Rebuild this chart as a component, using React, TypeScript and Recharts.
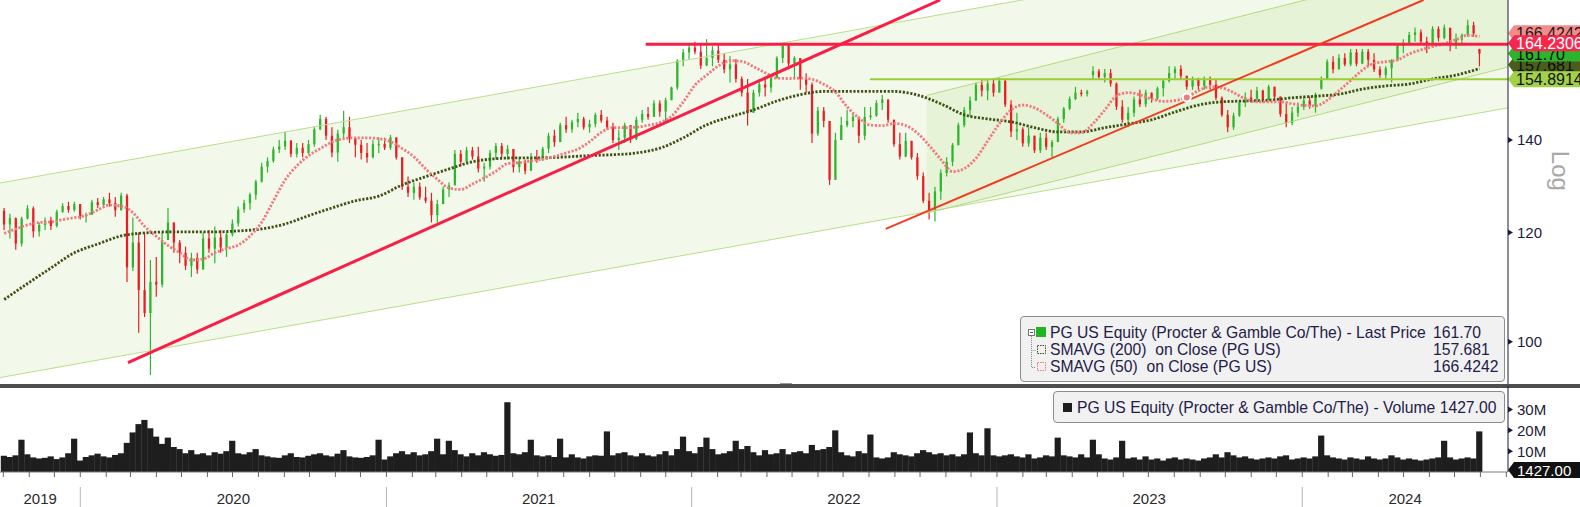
import React from "react";
import { ComposedChart, Bar, Line, Area, XAxis, YAxis, ReferenceLine } from "recharts";

const FONT = '"Liberation Sans", Arial, sans-serif';
const DAY = 86400000;
const utc = (s: string) => Date.parse(s + "T00:00:00Z");

// visible time window and weekly bar calendar (bar sits on the Wednesday of its week)
const X_START = "2019-09-27";
const X_END = "2024-09-03";
const FIRST_BAR = "2019-10-02";

// PG US weekly candles
const OPEN = [
  124.4, 121.6, 122.9, 117.8, 122.8, 124.9, 120.2, 121.5, 122.4, 121.3,
  124.2, 125.4, 124.6, 125.8, 123.3, 123.6, 126.2, 125.6, 126.8, 126.0,
  124.5, 127.6, 113.2, 118.0, 109.0, 104.9, 110.5, 110.0, 118.5, 122.0,
  118.0, 116.0, 113.5, 115.0, 112.8, 118.8, 116.8, 119.0, 117.0, 119.6,
  121.8, 124.7, 126.0, 127.8, 130.6, 133.9, 135.2, 137.8, 138.5, 139.8,
  136.8, 138.2, 137.0, 139.0, 142.5, 145.0, 141.0, 137.1, 141.5, 143.0,
  140.5, 138.9, 137.0, 136.0, 139.0, 139.1, 138.2, 140.6, 136.0, 129.5,
  128.2, 129.5, 127.2, 126.5, 123.5, 125.8, 128.9, 129.8, 136.8, 135.0,
  137.6, 136.2, 133.5, 133.9, 137.0, 138.6, 136.8, 137.9, 133.8, 135.1,
  133.0, 135.9, 135.5, 138.0, 141.0, 139.5, 143.5, 142.5, 144.2, 145.0,
  143.0, 143.8, 146.0, 144.6, 143.0, 140.0, 140.5, 143.5, 140.2, 144.8,
  146.2, 145.5, 148.8, 146.8, 149.6, 152.8, 159.8, 162.0, 163.3, 162.2,
  158.5, 160.5, 162.5, 160.0, 157.5, 158.8, 155.0, 151.5, 146.5, 151.5,
  153.6, 152.8, 155.2, 160.5, 163.8, 159.0, 160.5, 155.0, 153.5, 141.5,
  147.0, 144.5, 131.0, 140.0, 143.5, 144.5, 145.5, 141.0, 145.5, 145.8,
  148.9, 149.8, 144.8, 139.0, 136.2, 139.8, 136.0, 131.8, 126.5, 124.5,
  128.5, 132.5, 135.0, 138.8, 143.5, 147.2, 149.5, 153.5, 152.0, 153.8,
  151.5, 154.5, 148.5, 142.0, 142.5, 139.2, 141.0, 137.6, 140.5, 138.4,
  139.5, 145.0, 147.5, 149.9, 151.5, 151.2, 156.0, 157.0, 155.5, 156.5,
  153.8, 148.0, 144.8, 146.5, 149.8, 148.6, 151.5, 150.0, 152.6, 154.5,
  156.5, 157.6, 155.8, 153.0, 154.8, 153.2, 155.0, 153.5, 150.2, 146.0,
  143.0, 145.8, 149.0, 150.3, 150.0, 152.0, 149.8, 153.0, 150.5, 146.2,
  144.0, 146.5, 148.0, 149.5, 148.2, 152.5, 155.0, 159.5, 157.5, 160.5,
  158.8, 162.0, 159.0, 162.2, 160.0, 157.5, 156.0, 157.8, 159.8, 163.8,
  164.6, 166.8, 167.5, 165.0, 164.5, 168.5, 166.0, 168.8, 164.5, 165.5,
  166.8, 169.5, 162.9,
];
const HIGH = [
  125.0, 123.8, 123.0, 123.2, 125.6, 125.3, 122.0, 123.0, 123.2, 124.6,
  126.0, 126.3, 126.3, 125.8, 124.0, 126.7, 127.1, 127.3, 128.2, 127.3,
  128.2, 128.0, 123.0, 120.0, 120.0, 114.6, 115.2, 120.0, 125.0, 122.0,
  118.5, 117.2, 116.0, 116.0, 120.0, 120.5, 121.2, 120.5, 120.0, 122.6,
  125.3, 126.7, 128.2, 131.0, 134.8, 136.0, 138.4, 140.0, 141.9, 140.0,
  139.3, 139.3, 140.0, 143.0, 146.0, 145.5, 143.0, 142.4, 147.0, 145.5,
  140.7, 140.0, 139.3, 140.0, 140.7, 140.5, 141.2, 140.6, 136.0, 131.7,
  130.4, 130.4, 129.5, 128.2, 126.7, 129.5, 130.4, 137.7, 137.7, 138.4,
  138.4, 138.4, 134.8, 137.7, 139.3, 139.3, 138.8, 137.9, 136.0, 135.5,
  137.0, 137.7, 138.4, 141.7, 142.4, 144.1, 145.5, 144.8, 146.5, 145.5,
  144.8, 146.5, 147.2, 145.5, 144.1, 142.4, 144.1, 143.5, 145.5, 147.2,
  147.9, 149.6, 149.6, 150.2, 153.0, 160.2, 162.9, 164.6, 164.9, 164.6,
  165.6, 163.7, 164.1, 161.8, 161.0, 160.2, 155.6, 155.0, 152.2, 155.0,
  155.0, 155.6, 161.0, 164.6, 164.1, 161.0, 160.5, 156.5, 154.1, 147.9,
  147.9, 144.5, 141.7, 145.5, 147.2, 146.5, 145.5, 147.9, 147.9, 149.6,
  150.9, 149.8, 144.8, 141.7, 141.7, 139.8, 137.0, 132.6, 128.2, 129.5,
  133.3, 136.0, 139.3, 144.1, 147.9, 150.5, 154.1, 155.0, 155.0, 155.0,
  155.3, 155.0, 149.6, 146.5, 143.0, 143.0, 141.0, 141.7, 141.7, 140.0,
  145.5, 147.9, 150.5, 153.0, 152.2, 152.2, 158.3, 157.6, 157.6, 157.6,
  154.1, 149.6, 147.9, 150.5, 152.2, 152.2, 151.5, 153.0, 155.0, 158.3,
  158.3, 158.6, 155.8, 155.6, 155.3, 155.6, 155.6, 155.0, 150.5, 147.2,
  146.5, 149.6, 151.5, 152.2, 153.0, 152.2, 153.5, 153.0, 150.5, 149.0,
  147.9, 149.0, 150.5, 150.5, 151.5, 155.6, 160.2, 161.0, 161.5, 161.8,
  162.9, 162.9, 162.9, 162.9, 161.8, 158.3, 158.3, 160.2, 164.6, 165.6,
  167.6, 168.9, 168.3, 166.3, 169.2, 169.2, 169.7, 168.8, 167.2, 167.2,
  171.1, 170.5, 163.0,
];
const LOW = [
  120.5, 118.8, 116.6, 117.2, 122.6, 119.0, 119.2, 120.5, 120.5, 121.0,
  124.0, 124.0, 124.2, 122.6, 122.0, 123.6, 125.0, 125.0, 125.3, 123.2,
  124.5, 110.5, 112.5, 101.5, 104.2, 94.6, 107.8, 109.5, 118.5, 116.0,
  114.0, 112.7, 111.4, 112.0, 112.8, 116.0, 114.0, 116.0, 115.2, 119.2,
  121.2, 124.0, 124.6, 126.7, 130.4, 132.6, 134.8, 137.0, 137.7, 136.0,
  136.0, 136.0, 136.8, 138.4, 142.4, 140.0, 136.0, 135.0, 140.0, 139.3,
  136.0, 135.5, 134.8, 135.8, 137.0, 137.7, 137.7, 135.5, 128.8, 127.3,
  126.7, 126.7, 126.0, 122.0, 122.0, 125.8, 127.3, 129.8, 134.0, 134.8,
  135.5, 132.6, 130.6, 133.3, 135.5, 136.0, 135.5, 132.6, 132.6, 132.2,
  133.0, 134.8, 135.2, 137.0, 138.4, 139.5, 141.7, 141.7, 143.0, 142.4,
  141.7, 143.0, 144.1, 142.4, 139.3, 137.7, 139.3, 139.3, 140.0, 144.1,
  144.8, 145.5, 145.5, 144.3, 149.6, 152.2, 158.3, 160.2, 161.5, 157.6,
  158.3, 158.3, 159.2, 156.5, 154.1, 154.1, 150.5, 143.4, 146.5, 150.5,
  150.5, 151.5, 155.2, 159.2, 158.3, 155.0, 152.2, 151.5, 139.3, 141.0,
  143.0, 129.9, 131.0, 140.0, 143.0, 143.0, 139.3, 140.0, 144.8, 145.5,
  147.2, 144.1, 138.4, 135.5, 136.0, 135.5, 131.0, 126.0, 122.6, 122.2,
  126.7, 131.7, 134.0, 138.8, 143.0, 145.5, 149.5, 150.5, 149.6, 150.5,
  151.5, 147.9, 140.7, 140.0, 138.4, 138.4, 137.0, 137.0, 137.7, 136.0,
  139.5, 144.1, 147.2, 149.6, 150.5, 150.5, 155.0, 155.0, 154.1, 153.0,
  147.2, 144.1, 143.0, 145.5, 147.9, 147.9, 149.0, 149.6, 150.5, 154.1,
  155.0, 155.0, 152.2, 152.2, 152.0, 152.2, 152.2, 149.6, 145.5, 141.8,
  142.4, 145.5, 147.9, 149.0, 149.0, 149.0, 149.6, 149.6, 145.5, 143.0,
  143.5, 145.5, 147.2, 147.5, 146.5, 152.2, 155.0, 156.5, 157.5, 158.3,
  158.3, 158.3, 159.0, 158.3, 156.8, 155.3, 155.0, 154.1, 159.8, 161.8,
  164.3, 164.9, 164.6, 161.8, 164.5, 165.0, 165.6, 162.3, 162.9, 164.6,
  166.3, 166.3, 158.3,
];
const CLOSE = [
  121.6, 122.9, 117.8, 122.8, 124.9, 120.2, 121.5, 122.4, 121.3, 124.2,
  125.4, 124.6, 125.8, 123.3, 123.6, 126.2, 125.6, 126.8, 126.0, 124.5,
  127.6, 113.2, 118.0, 109.0, 104.9, 110.5, 110.0, 118.5, 122.0, 118.0,
  116.0, 113.5, 115.0, 112.8, 118.8, 116.8, 119.0, 117.0, 119.6, 121.8,
  124.7, 126.0, 127.8, 130.6, 133.9, 135.2, 137.8, 138.5, 139.8, 136.8,
  138.2, 137.0, 139.0, 142.5, 145.0, 141.0, 137.1, 141.5, 143.0, 140.5,
  138.9, 137.0, 136.0, 139.0, 139.1, 138.2, 140.6, 136.0, 129.5, 128.2,
  129.5, 127.2, 126.5, 123.5, 125.8, 128.9, 129.8, 136.8, 135.0, 137.6,
  136.2, 133.5, 133.9, 137.0, 138.6, 136.8, 137.9, 133.8, 135.1, 133.0,
  135.9, 135.5, 138.0, 141.0, 139.5, 143.5, 142.5, 144.2, 145.0, 143.0,
  143.8, 146.0, 144.6, 143.0, 140.0, 140.5, 143.5, 140.2, 144.8, 146.2,
  145.5, 148.8, 146.8, 149.6, 152.8, 159.8, 162.0, 163.3, 162.2, 158.5,
  160.5, 162.5, 160.0, 157.5, 158.8, 155.0, 151.5, 146.5, 151.5, 153.6,
  152.8, 155.2, 160.5, 163.8, 159.0, 160.5, 155.0, 153.5, 141.5, 147.0,
  144.5, 131.0, 140.0, 143.5, 144.5, 145.5, 141.0, 145.5, 145.8, 148.9,
  149.8, 144.8, 139.0, 136.2, 139.8, 136.0, 131.8, 126.5, 124.5, 128.5,
  132.5, 135.0, 138.8, 143.5, 147.2, 149.5, 153.5, 152.0, 153.8, 151.5,
  154.5, 148.5, 142.0, 142.5, 139.2, 141.0, 137.6, 140.5, 138.4, 139.5,
  145.0, 147.5, 149.9, 151.5, 151.2, 151.8, 157.0, 155.5, 156.5, 153.8,
  148.0, 144.8, 146.5, 149.8, 148.6, 151.5, 150.0, 152.6, 154.5, 156.5,
  157.6, 155.8, 153.0, 154.8, 153.2, 155.0, 153.5, 150.2, 146.0, 143.0,
  145.8, 149.0, 150.3, 150.0, 152.0, 149.8, 153.0, 150.5, 146.2, 144.0,
  146.5, 148.0, 149.5, 148.2, 151.0, 155.0, 159.5, 157.5, 160.5, 158.8,
  162.0, 159.0, 162.2, 160.0, 157.5, 156.0, 157.8, 159.8, 163.8, 164.6,
  166.8, 167.5, 165.0, 164.5, 168.5, 166.0, 168.8, 164.5, 165.5, 166.8,
  169.5, 167.2, 161.7,
];
// daily volume level per week, millions of shares
const VOLUME_M = [
  7.8, 7.2, 8.0, 15.5, 8.5, 7.0, 6.5, 6.8, 7.5, 6.2,
  7.0, 9.0, 16.0, 5.5, 7.2, 8.0, 8.8, 7.5, 7.0, 8.2,
  9.0, 14.0, 19.0, 23.0, 25.0, 21.0, 17.0, 13.5, 16.5, 12.0,
  11.0, 9.0, 10.5, 8.5, 9.0, 8.0, 9.5, 8.8, 10.0, 15.0,
  9.0, 8.5, 9.5, 11.0, 8.0, 7.5, 7.0, 6.8, 8.0, 9.0,
  7.2, 7.0, 7.8, 8.5, 9.0, 8.0, 7.5, 8.8, 10.5, 7.5,
  7.0, 6.8, 7.2, 8.0, 15.5, 6.0, 7.5, 9.0, 10.0, 8.5,
  9.5, 8.0, 8.5, 10.0, 16.0, 8.5, 15.0, 10.5, 8.5, 7.5,
  9.0, 8.0, 9.5, 8.5, 7.8, 8.2, 33.5, 9.0, 8.5, 9.5,
  15.5, 8.0, 7.5, 8.0, 7.2, 16.0, 7.0, 8.5, 7.0, 6.5,
  7.5, 8.0, 7.8, 19.5, 8.0, 9.0, 9.5, 8.0, 7.5, 9.0,
  8.0, 7.5, 8.5, 10.0, 8.0, 11.0, 17.0, 10.0, 9.0, 12.0,
  16.5, 11.0, 8.5, 9.0, 10.0, 15.0, 11.0, 12.5, 9.5, 8.0,
  10.5, 8.5, 9.0, 11.0, 8.5, 9.5, 10.0, 9.0, 13.0, 10.5,
  11.0, 12.0, 20.0, 9.5, 8.0, 7.5, 10.0, 9.0, 18.0, 7.0,
  6.5, 7.0, 9.5, 8.5, 8.0, 7.5, 9.0, 10.5, 9.5, 8.5,
  9.0, 8.0, 8.5, 7.5, 8.5, 19.0, 9.0, 8.0, 21.0, 8.0,
  7.5, 8.0, 8.5, 7.5, 7.0, 8.5, 6.5, 7.0, 8.0, 7.5,
  16.5, 8.0, 7.5, 7.0, 8.5, 7.0, 15.5, 8.5, 6.5, 6.0,
  7.0, 15.0, 6.5, 7.0, 6.0, 7.5, 6.0, 6.5, 5.5, 6.5,
  7.0, 6.0, 6.5, 6.0, 5.5, 6.5, 7.0, 8.5, 7.0, 9.5,
  8.0, 7.0, 7.5, 6.5, 6.0, 6.5, 7.0, 6.5, 7.5, 8.0,
  6.0, 6.5, 7.0, 6.5, 7.5, 17.5, 8.0, 7.0, 6.5, 6.0,
  7.0, 6.5, 6.0, 7.5, 6.5, 6.0, 6.5, 8.0, 7.0, 6.0,
  6.5, 6.0, 5.5, 6.0, 6.5, 7.0, 15.0, 7.0, 6.0, 6.5,
  7.0, 6.5, 19.5,
];
// moving averages (every 4th / every 2nd weekly bar)
const SMA200_EVERY_4W = [
  107.3, 110.2, 113.1, 116.0, 117.7, 119.3, 119.9, 120.1, 120.1, 120.1,
  120.3, 120.7, 121.7, 123.4, 125.0, 126.5, 127.5, 129.9, 131.7, 133.4,
  135.0, 135.7, 135.9, 135.9, 136.1, 136.4, 136.6, 137.0, 138.1, 140.5,
  143.6, 145.5, 147.2, 149.4, 151.0, 151.8, 151.8, 151.8, 151.8, 150.9,
  148.7, 146.0, 145.0, 144.3, 142.9, 141.9, 141.9, 142.9, 143.8, 144.8,
  146.7, 148.4, 149.2, 149.4, 149.6, 150.2, 150.6, 151.1, 152.4, 153.2,
  153.7, 155.0, 156.0, 157.7,
];
const SMA50_EVERY_2W = [
  119.8, 120.7, 121.5, 122.0, 122.1, 122.6, 123.0, 123.5, 124.6, 125.6,
  125.4, 124.0, 121.2, 119.2, 117.4, 116.0, 114.6, 114.8, 116.0, 116.8,
  117.5, 119.3, 122.1, 126.5, 131.0, 134.1, 136.4, 138.0, 139.5, 140.3,
  140.5, 140.5, 140.3, 139.6, 138.0, 136.1, 133.4, 131.1, 129.2, 128.9,
  130.1, 131.4, 132.9, 134.6, 134.8, 135.2, 135.6, 136.2, 137.0, 137.9,
  139.6, 141.8, 142.9, 142.9, 143.0, 143.5, 144.1, 145.7, 149.2, 153.4,
  156.0, 158.4, 159.8, 159.6, 158.2, 156.6, 155.2, 155.1, 155.2, 154.9,
  153.6, 151.6, 147.9, 145.2, 143.5, 143.4, 143.9, 143.4, 141.6, 138.7,
  135.5, 132.8, 133.5, 135.8, 139.8, 143.9, 147.2, 148.4, 147.7, 146.0,
  143.9, 141.7, 141.7, 143.9, 147.2, 150.7, 151.5, 150.9, 149.9, 149.3,
  149.5, 150.3, 152.0, 153.0, 152.7, 151.5, 149.9, 149.2, 149.2, 149.2,
  148.7, 148.3, 148.2, 149.6, 152.0, 154.6, 157.3, 159.1, 159.5, 160.0,
  161.6, 162.7, 163.6, 164.4, 165.5, 166.7, 166.4,
];

// drawn studies: regression channels [date, lower, upper] and trend lines
const OUTER_CHANNEL: [string, number, number][] = [["2019-09-27", 94.2, 130.3], ["2024-09-03", 147.7, 204.4]];
const INNER_CHANNEL: [string, number, number][] = [["2022-10-09", 123.9, 150.8], ["2024-09-03", 158.1, 192.5]];
const TREND_MAJOR: [string, number][] = [["2020-02-27", 96.6], ["2022-10-25", 176.8]];
const TREND_MINOR: [string, number][] = [["2022-08-21", 120.7], ["2024-05-25", 176.8]];
const RESISTANCE = { from: "2021-11-07", value: 164.2306 };
const SUPPORT = { from: "2022-08-02", value: 154.8914 };

const PRICE_TICKS = [100, 120, 140];
const VOLUME_TICKS = [10, 20, 30];
const YEARS = ["2019", "2020", "2021", "2022", "2023", "2024"];
const YEAR_LABEL_AT = ["2019-11-14", "2020-07-02", "2021-07-02", "2022-07-02", "2023-07-02", "2024-05-03"];

const LAST_TAGS = [
  { text: "166.4242", value: 166.4242 },
  { text: "157.681", value: 157.681 },
  { text: "161.70", value: 161.7 },
  { text: "164.2306", value: 164.2306 },
  { text: "154.8914", value: 154.8914 },
];
const TAG_LOOK = [
  { fill: "#f28b8b", color: "#1a1a1a", dy: -3 },
  { fill: "#4a5e1c", color: "#0c0c0c", dy: -4 },
  { fill: "#2cb52c", color: "#0c0c0c", dy: 0 },
  { fill: "#f5274b", color: "#ffffff", dy: -1 },
  { fill: "#a3d24a", color: "#111111", dy: 0 },
];

const T0 = utc(X_START);
const T1 = utc(X_END);
const barTime = (i: number) => utc(FIRST_BAR) + i * 7 * DAY;

const GREEN = "#2fb52f";
const RED = "#ea1d25";
const AXIS = "#1b1b3a";

const candles = CLOSE.map((close, i) => ({
  t: barTime(i),
  open: OPEN[i],
  high: HIGH[i],
  low: LOW[i],
  close,
  range: [LOW[i], HIGH[i]],
  volume: VOLUME_M[i],
}));

const sma200 = SMA200_EVERY_4W.map((v, k) => ({ t: barTime(4 * k), v }));
const sma50 = SMA50_EVERY_2W.map((v, k) => ({ t: barTime(2 * k), v }));
const toBand = (rows: [string, number, number][]) =>
  rows.map(([d, lo, hi]) => ({ t: utc(d), band: [lo, hi], lo, hi }));
const outer = toBand(OUTER_CHANNEL);
const inner = toBand(INNER_CHANNEL);

const monthTicks: number[] = [];
for (let k = 0; k < 60; k++) {
  const d = Date.UTC(2019, 9 + k, 1);
  if (d <= T1) monthTicks.push(d);
}
const yearByTs = new Map<number, string>(YEAR_LABEL_AT.map((d, i) => [utc(d), YEARS[i]]));
const timeTicks = [...monthTicks, ...yearByTs.keys()].sort((a, b) => a - b);

function Candle(props: any) {
  const { x, y, width, height, payload } = props;
  if (!payload || !isFinite(y) || !isFinite(height)) return null;
  const { open, close, high, low } = payload;
  const color = close >= open ? GREEN : RED;
  const top = Math.min(y, y + height);
  const h = Math.abs(height);
  const lh = Math.log(high);
  const ll = Math.log(low);
  const pix = (v: number) => (lh === ll ? top : top + (h * (lh - Math.log(v))) / (lh - ll));
  const yo = pix(open);
  const yc = pix(close);
  const cx = x + width / 2;
  return (
    <g>
      <line x1={cx} x2={cx} y1={top} y2={top + h} stroke={color} strokeWidth={1.2} />
      <rect x={x} y={Math.min(yo, yc)} width={width} height={Math.max(1.5, Math.abs(yc - yo))} fill={color} />
    </g>
  );
}

// volume columns fill the whole week slot, like the dense daily histogram
function VolumeColumn(props: any) {
  const { x, y, width, height } = props;
  if (!isFinite(y) || !isFinite(height)) return null;
  const cx = x + width / 2;
  return <rect x={cx - 3.1} y={Math.min(y, y + height)} width={6.2} height={Math.abs(height)} fill="#1e1e1e" />;
}

function AxisTick(props: any) {
  const { x, y, payload, suffix } = props;
  return (
    <g>
      <path d={`M${x},${y - 3} L${x + 5},${y} L${x},${y + 3} Z`} fill={AXIS} />
      <text x={x + 9} y={y} dominantBaseline="central" fontSize={15} fill={AXIS} fontFamily={FONT}>
        {payload.value}
        {suffix}
      </text>
    </g>
  );
}

function TimeTick(props: any) {
  const { x, y, payload } = props;
  const label = yearByTs.get(payload.value);
  if (label) {
    return (
      <text x={x} y={y + 26} textAnchor="middle" dominantBaseline="central" fontSize={15} fill="#2a2a2a" fontFamily={FONT}>
        {label}
      </text>
    );
  }
  const jan = new Date(payload.value).getUTCMonth() === 0;
  return (
    <g>
      <line x1={x} x2={x} y1={y} y2={y + 5} stroke="#666" />
      {jan && <line x1={x} x2={x} y1={y + 15} y2={y + 35} stroke="#b4b4b4" />}
    </g>
  );
}

function PriceTag({ viewBox, text, look }: any) {
  if (!viewBox) return null;
  const x = viewBox.x + viewBox.width;
  const y = viewBox.y + look.dy;
  return (
    <g>
      <path d={`M${x},${y} L${x + 6},${y - 8} L${x + 80},${y - 8} L${x + 80},${y + 8} L${x + 6},${y + 8} Z`} fill={look.fill} />
      <text x={x + 8} y={y + 0.5} dominantBaseline="central" fontSize={16} fill={look.color} fontFamily={FONT}>
        {text}
      </text>
    </g>
  );
}

function VolumeTag({ viewBox }: any) {
  if (!viewBox) return null;
  const x = viewBox.x + viewBox.width;
  const y = viewBox.y - 2;
  return (
    <g>
      <path d={`M${x},${y} L${x + 6},${y - 8} L${x + 80},${y - 8} L${x + 80},${y + 8} L${x + 6},${y + 8} Z`} fill="#111" />
      <text x={x + 9} y={y + 1} dominantBaseline="central" fontSize={15} fill="#fff" fontFamily={FONT}>
        1427.00
      </text>
    </g>
  );
}

function LogLabel({ viewBox }: any) {
  if (!viewBox) return null;
  const cx = viewBox.x + 52;
  const cy = viewBox.y + viewBox.height * 0.445;
  return (
    <text x={cx} y={cy} transform={`rotate(90 ${cx} ${cy})`} textAnchor="middle" dominantBaseline="central" fontSize={24} fill="#a8a8a8" fontFamily={FONT}>
      Log
    </text>
  );
}

const legendText: React.CSSProperties = {
  position: "absolute",
  lineHeight: "18px",
  fontSize: 15.7,
  color: "#1f2048",
  whiteSpace: "nowrap",
};

export default function App() {
  return (
    <div style={{ position: "relative", width: 1580, height: 507, background: "#fff", overflow: "hidden", fontFamily: FONT }}>
      <style>{"body{margin:0}"}</style>

      <div style={{ position: "absolute", left: 0, top: 0 }}>
        <ComposedChart width={1580} height={384} data={candles} margin={{ top: 0, right: 0, bottom: 0, left: 0 }}>
          <XAxis dataKey="t" type="number" domain={[T0, T1]} allowDataOverflow hide />
          <YAxis
            orientation="right"
            scale="log"
            domain={[93.2, 176.8]}
            allowDataOverflow
            ticks={PRICE_TICKS}
            interval={0}
            width={72}
            axisLine={{ stroke: AXIS }}
            tickLine={false}
            tickSize={0}
            tickMargin={0}
            tick={<AxisTick suffix="" />}
            label={(p: any) => <LogLabel viewBox={p.viewBox} />}
          />
          <Area data={outer} dataKey="band" type="linear" stroke="none" fill="#f3f9ea" fillOpacity={1} isAnimationActive={false} />
          <Area data={inner} dataKey="band" type="linear" stroke="none" fill="#d9ecbf" fillOpacity={0.45} isAnimationActive={false} />
          <Line data={outer} dataKey="lo" type="linear" stroke="#b8de8a" strokeWidth={1} dot={false} isAnimationActive={false} />
          <Line data={outer} dataKey="hi" type="linear" stroke="#b8de8a" strokeWidth={1} dot={false} isAnimationActive={false} />
          <Line data={inner} dataKey="lo" type="linear" stroke="#b2db80" strokeWidth={1} dot={false} isAnimationActive={false} />
          <Line data={inner} dataKey="hi" type="linear" stroke="#b2db80" strokeWidth={1} dot={false} isAnimationActive={false} />

          <Bar dataKey="range" barSize={5} shape={(p: any) => <Candle {...p} />} isAnimationActive={false} />

          <Line data={sma200} dataKey="v" type="monotone" stroke="#3f5216" strokeWidth={2.8} strokeDasharray="2.2 1.6" dot={false} isAnimationActive={false} />
          <Line data={sma50} dataKey="v" type="monotone" stroke="#f07a80" strokeWidth={2.8} strokeDasharray="2.2 1.6" dot={false} isAnimationActive={false} />

          <ReferenceLine
            segment={[{ x: utc(SUPPORT.from), y: SUPPORT.value }, { x: T1, y: SUPPORT.value }]}
            stroke="#9bcd35"
            strokeWidth={2}
            ifOverflow="hidden"
          />
          <ReferenceLine
            segment={[{ x: utc(RESISTANCE.from), y: RESISTANCE.value }, { x: T1, y: RESISTANCE.value }]}
            stroke="#f81e46"
            strokeWidth={3}
            ifOverflow="hidden"
          />
          <ReferenceLine
            segment={TREND_MAJOR.map(([d, v]) => ({ x: utc(d), y: v }))}
            stroke="#f81e46"
            strokeWidth={3}
            ifOverflow="hidden"
          />
          <ReferenceLine
            segment={TREND_MINOR.map(([d, v]) => ({ x: utc(d), y: v }))}
            stroke="#f23a1e"
            strokeWidth={2}
            ifOverflow="hidden"
          />

          {LAST_TAGS.map((tag, i) => (
            <ReferenceLine
              key={tag.text}
              y={tag.value}
              stroke="none"
              ifOverflow="visible"
              label={(p: any) => <PriceTag viewBox={p.viewBox} text={tag.text} look={TAG_LOOK[i]} />}
            />
          ))}
        </ComposedChart>
      </div>

      {/* price legend */}
      <div
        style={{
          position: "absolute",
          left: 1020,
          top: 316,
          width: 485,
          height: 66,
          boxSizing: "border-box",
          background: "#f1f1f1",
          border: "1px solid #8c8c8c",
          borderRadius: 4,
        }}
      >
        <svg width={40} height={64} style={{ position: "absolute", left: 0, top: 0 }}>
          <rect x={7.5} y={12.5} width={6} height={6} fill="#fff" stroke="#777" />
          <line x1={9} x2={12} y1={15.5} y2={15.5} stroke="#555" />
          <path d="M10.5,19 V50.5 H15 M10.5,33.5 H15" stroke="#888" strokeDasharray="1 1" fill="none" />
          <rect x={15} y={10} width={10} height={10} fill="#22b422" />
          <rect x={16.5} y={28.5} width={8} height={8} fill="none" stroke="#3f5216" strokeDasharray="1.5 1" />
          <rect x={16.5} y={45.5} width={8} height={8} fill="none" stroke="#f07a80" strokeDasharray="1.5 1" />
        </svg>
        <div style={{ ...legendText, left: 29, top: 6.5 }}>PG US Equity (Procter &amp; Gamble Co/The) - Last Price</div>
        <div style={{ ...legendText, left: 29, top: 24 }}>SMAVG (200)&nbsp; on Close (PG US)</div>
        <div style={{ ...legendText, left: 29, top: 41.3 }}>SMAVG (50)&nbsp; on Close (PG US)</div>
        <div style={{ ...legendText, left: 412, top: 6.5 }}>161.70</div>
        <div style={{ ...legendText, left: 412, top: 24 }}>157.681</div>
        <div style={{ ...legendText, left: 412, top: 41.3 }}>166.4242</div>
      </div>

      {/* panel divider */}
      <div style={{ position: "absolute", left: 0, top: 384, width: 1580, height: 3.5, background: "#4e4e4e" }} />
      <div style={{ position: "absolute", left: 780, top: 383, width: 12, height: 1, borderTop: "1px solid #999" }} />

      <div style={{ position: "absolute", left: 0, top: 386 }}>
        <ComposedChart width={1580} height={121} data={candles} margin={{ top: 0, right: 0, bottom: 0, left: 0 }}>
          <XAxis
            dataKey="t"
            type="number"
            domain={[T0, T1]}
            allowDataOverflow
            ticks={timeTicks}
            interval={0}
            height={35}
            tickLine={false}
            tickSize={0}
            tickMargin={0}
            axisLine={{ stroke: "#7a7a7a" }}
            tick={<TimeTick />}
          />
          <YAxis
            orientation="right"
            domain={[0, 41.3]}
            allowDataOverflow
            ticks={VOLUME_TICKS}
            interval={0}
            width={72}
            axisLine={{ stroke: AXIS }}
            tickLine={false}
            tickSize={0}
            tickMargin={0}
            tick={<AxisTick suffix="M" />}
          />
          <Bar dataKey="volume" barSize={6} shape={(p: any) => <VolumeColumn {...p} />} isAnimationActive={false} />
          <ReferenceLine y={0.001427} stroke="none" ifOverflow="visible" label={(p: any) => <VolumeTag viewBox={p.viewBox} />} />
        </ComposedChart>
      </div>

      {/* volume legend */}
      <div
        style={{
          position: "absolute",
          left: 1053,
          top: 391,
          width: 452,
          height: 32,
          boxSizing: "border-box",
          background: "#f1f1f1",
          border: "1px solid #8c8c8c",
          borderRadius: 4,
        }}
      >
        <div style={{ position: "absolute", left: 9, top: 11, width: 9, height: 9, background: "#1e1e1e" }} />
        <div style={{ ...legendText, left: 23, top: 6.5 }}>PG US Equity (Procter &amp; Gamble Co/The) - Volume 1427.00</div>
      </div>
    </div>
  );
}
